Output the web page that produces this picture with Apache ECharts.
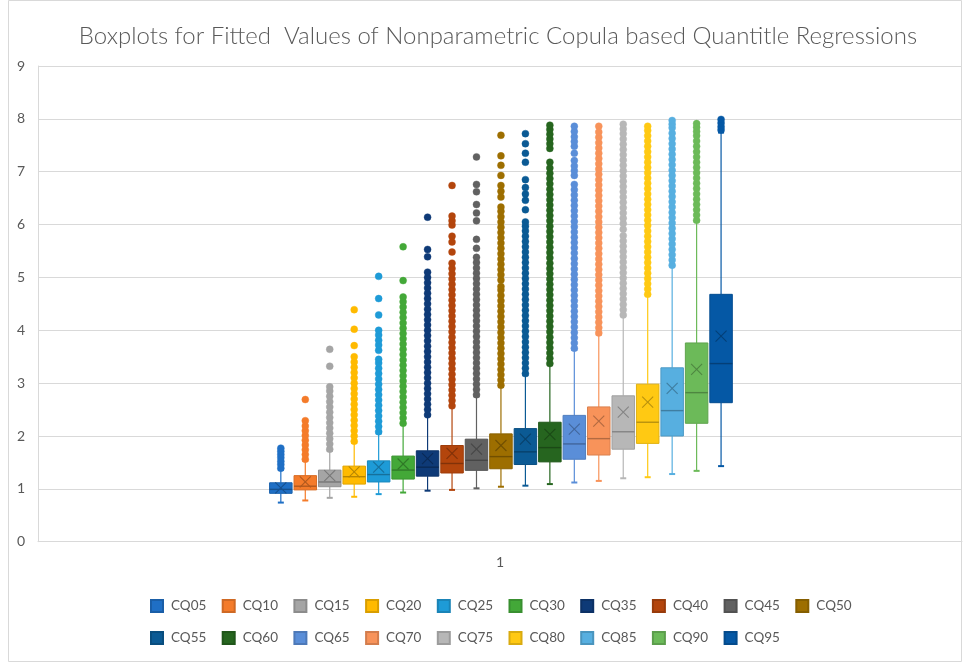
<!DOCTYPE html>
<html><head><meta charset="utf-8">
<script src="https://cdn.jsdelivr.net/npm/echarts@6/dist/echarts.min.js"></script>
<style>html,body{margin:0;padding:0;background:#fff}#c{width:969px;height:668px}</style>
</head><body><div id="c"></div>
<script>
// ---------------- data ----------------
const categories = ['1'];
const names = ['CQ05','CQ10','CQ15','CQ20','CQ25','CQ30','CQ35','CQ40','CQ45','CQ50','CQ55','CQ60','CQ65','CQ70','CQ75','CQ80','CQ85','CQ90','CQ95'];
const yTicks = [0,1,2,3,4,5,6,7,8,9];
const mins    = [0.74,0.78,0.83,0.85,0.90,0.93,0.965,0.98,1.01,1.04,1.06,1.09,1.12,1.15,1.20,1.22,1.28,1.34,1.43];
const q1s     = [0.915,0.98,1.04,1.09,1.13,1.185,1.24,1.30,1.35,1.38,1.46,1.51,1.56,1.64,1.75,1.86,2.00,2.24,2.63];
const medians = [0.99,1.05,1.13,1.23,1.27,1.355,1.41,1.48,1.54,1.61,1.70,1.78,1.85,1.95,2.08,2.26,2.48,2.82,3.37];
const q3s     = [1.115,1.25,1.355,1.43,1.53,1.62,1.72,1.82,1.94,2.04,2.14,2.26,2.39,2.55,2.76,2.98,3.29,3.76,4.68];
const maxs    = [1.36,1.53,1.72,1.87,2.05,2.22,2.38,2.55,2.75,2.93,3.15,3.35,3.63,3.92,4.27,4.66,5.21,6.06,7.74];
const means   = [1.02,1.13,1.25,1.32,1.41,1.47,1.57,1.67,1.75,1.82,1.94,2.03,2.13,2.28,2.45,2.64,2.90,3.26,3.89];

const outCQ05 = [1.39,1.46,1.52,1.59,1.65,1.71,1.77];
const outCQ10 = [1.56,1.65,1.74,1.83,1.92,2.01,2.10,2.19,2.29,2.69];
const outCQ15 = [1.75,1.85,1.95,2.05,2.15,2.25,2.35,2.45,2.55,2.65,2.75,2.85,2.93,3.32,3.64];
const outCQ20 = [1.90,2.00,2.10,2.20,2.30,2.40,2.50,2.60,2.70,2.80,2.90,3.00,3.10,3.20,3.30,3.40,3.50,3.71,4.02,4.39];
const outCQ25 = [2.08,2.18,2.28,2.38,2.48,2.58,2.68,2.78,2.88,2.98,3.08,3.18,3.28,3.38,3.45,3.62,3.72,3.81,3.91,4.00,4.29,4.60,5.02];
const outCQ30 = [2.24,2.34,2.44,2.54,2.64,2.74,2.84,2.94,3.04,3.14,3.24,3.34,3.44,3.54,3.64,3.74,3.84,3.94,4.04,4.14,4.24,4.34,4.44,4.54,4.63,4.94,5.58];
const outCQ35 = [2.40,2.50,2.60,2.70,2.80,2.90,3.00,3.10,3.20,3.30,3.40,3.50,3.60,3.70,3.80,3.90,4.00,4.10,4.20,4.30,4.40,4.50,4.60,4.70,4.80,4.90,5.00,5.10,5.39,5.53,6.14];
const outCQ40 = [2.57,2.67,2.77,2.87,2.97,3.07,3.17,3.27,3.37,3.47,3.57,3.67,3.77,3.87,3.97,4.07,4.17,4.27,4.37,4.47,4.57,4.67,4.77,4.87,4.97,5.07,5.17,5.27,5.48,5.67,5.78,5.99,6.07,6.16,6.74];
const outCQ45 = [2.78,2.88,2.98,3.08,3.18,3.28,3.38,3.48,3.58,3.68,3.78,3.88,3.98,4.08,4.18,4.28,4.38,4.48,4.58,4.68,4.78,4.88,4.98,5.08,5.18,5.28,5.38,5.55,5.72,6.07,6.22,6.38,6.62,6.76,7.28];
const outCQ50 = [2.96,3.06,3.16,3.26,3.36,3.46,3.56,3.66,3.76,3.86,3.96,4.06,4.16,4.26,4.36,4.46,4.56,4.66,4.76,4.83,4.95,5.05,5.15,5.25,5.35,5.45,5.55,5.65,5.75,5.85,5.95,6.05,6.15,6.25,6.33,6.52,6.63,6.74,6.93,7.12,7.30,7.69];
const outCQ55 = [3.18,3.28,3.38,3.48,3.58,3.68,3.78,3.88,3.98,4.08,4.18,4.28,4.38,4.48,4.58,4.68,4.78,4.88,4.98,5.08,5.18,5.28,5.38,5.48,5.58,5.68,5.78,5.88,5.97,6.05,6.28,6.46,6.58,6.70,6.85,7.18,7.35,7.53,7.72];
const outCQ60 = [3.37,3.47,3.57,3.67,3.77,3.87,3.97,4.07,4.17,4.27,4.37,4.47,4.57,4.67,4.77,4.87,4.97,5.07,5.17,5.27,5.37,5.47,5.57,5.67,5.77,5.87,5.97,6.07,6.17,6.27,6.37,6.47,6.57,6.67,6.77,6.87,6.97,7.07,7.18,7.44,7.53,7.62,7.71,7.80,7.88];
const outCQ65 = [3.66,3.76,3.86,3.96,4.06,4.16,4.26,4.36,4.46,4.56,4.66,4.76,4.86,4.96,5.06,5.16,5.26,5.36,5.46,5.56,5.66,5.76,5.86,5.96,6.06,6.16,6.26,6.36,6.46,6.56,6.66,6.76,6.93,7.02,7.11,7.21,7.35,7.48,7.57,7.66,7.76,7.86];
const outCQ70 = [3.95,4.05,4.15,4.25,4.35,4.45,4.55,4.65,4.75,4.85,4.95,5.05,5.15,5.25,5.35,5.45,5.55,5.65,5.75,5.85,5.95,6.05,6.15,6.25,6.35,6.45,6.55,6.65,6.75,6.85,6.95,7.05,7.15,7.25,7.35,7.45,7.55,7.65,7.75,7.86];
const outCQ75 = [4.29,4.39,4.49,4.59,4.69,4.79,4.89,4.99,5.09,5.19,5.29,5.39,5.49,5.59,5.69,5.79,5.91,6.02,6.12,6.22,6.32,6.42,6.52,6.62,6.72,6.82,6.92,7.02,7.12,7.22,7.32,7.42,7.52,7.62,7.72,7.81,7.90];
const outCQ80 = [4.68,4.78,4.88,4.98,5.08,5.18,5.28,5.38,5.48,5.58,5.68,5.78,5.88,5.98,6.08,6.18,6.28,6.38,6.48,6.58,6.68,6.78,6.88,6.98,7.08,7.18,7.28,7.38,7.48,7.58,7.68,7.78,7.86];
const outCQ85 = [5.23,5.33,5.43,5.53,5.63,5.73,5.83,5.93,6.03,6.13,6.23,6.33,6.43,6.53,6.63,6.73,6.83,6.93,7.03,7.13,7.23,7.33,7.43,7.53,7.63,7.73,7.83,7.90,7.97];
const outCQ90 = [6.08,6.18,6.28,6.38,6.48,6.58,6.68,6.78,6.88,6.98,7.08,7.18,7.28,7.38,7.48,7.58,7.68,7.76,7.84,7.91];
const outCQ95 = [7.79,7.85,7.92,7.99];
const outliers = [outCQ05,outCQ10,outCQ15,outCQ20,outCQ25,outCQ30,outCQ35,outCQ40,outCQ45,outCQ50,outCQ55,outCQ60,outCQ65,outCQ70,outCQ75,outCQ80,outCQ85,outCQ90,outCQ95];

// ---------------- styles ----------------
const colors = ['#1F6FC5','#F47B2A','#A5A5A5','#FFBA00','#1E9BD7','#43A838','#0E3A77','#B3450C','#616161','#9D6E00',
                '#0B5A94','#26651F','#5A8ED8','#F8935A','#B7B7B7','#FFC913','#57AFE0','#6CBA59','#0558A5'];
function shade(hex, f) {
  const n = parseInt(hex.slice(1), 16);
  const r = Math.round(((n >> 16) & 255) * f), g = Math.round(((n >> 8) & 255) * f), b = Math.round((n & 255) * f);
  return 'rgb(' + r + ',' + g + ',' + b + ')';
}
const txt = '#595959';
const FONT = 'Lato';
const plotTop = 66, plotBottom = 126.3, plotLeft = 38, plotRight = 7;
const boxLeft = 268.6, boxWidthAll = 464.7;

function makeRender(i) {
  const c = colors[i], dk = shade(colors[i], 0.72);
  return function (params, api) {
    const idx = api.value(0);
    const pMin = api.coord([idx, api.value(1)]);
    const pQ1 = api.coord([idx, api.value(2)]);
    const pMed = api.coord([idx, api.value(3)]);
    const pQ3 = api.coord([idx, api.value(4)]);
    const pMax = api.coord([idx, api.value(5)]);
    const pMean = api.coord([idx, api.value(6)]);
    const x = pMed[0];
    const hw = api.size([1, 0])[0] * 0.46;
    const m = 5.5;
    return {
      type: 'group',
      children: [
        { type: 'line', shape: { x1: x, y1: pMin[1], x2: x, y2: pQ1[1] }, style: { stroke: c, lineWidth: 1.2 } },
        { type: 'line', shape: { x1: x, y1: pQ3[1], x2: x, y2: pMax[1] }, style: { stroke: c, lineWidth: 1.2 } },
        { type: 'line', shape: { x1: x - 3, y1: pMin[1], x2: x + 3, y2: pMin[1] }, style: { stroke: c, lineWidth: 2 } },
        { type: 'line', shape: { x1: x - 3, y1: pMax[1], x2: x + 3, y2: pMax[1] }, style: { stroke: c, lineWidth: 2 } },
        { type: 'rect', shape: { x: x - hw, y: pQ3[1], width: hw * 2, height: pQ1[1] - pQ3[1] },
          style: { fill: c, stroke: shade(colors[i], 0.88), lineWidth: 1 } },
        { type: 'line', shape: { x1: x - hw, y1: pMed[1], x2: x + hw, y2: pMed[1] }, style: { stroke: dk, lineWidth: 1.4 } },
        { type: 'line', shape: { x1: x - m, y1: pMean[1] - m, x2: x + m, y2: pMean[1] + m }, style: { stroke: dk, lineWidth: 1.1 } },
        { type: 'line', shape: { x1: x - m, y1: pMean[1] + m, x2: x + m, y2: pMean[1] - m }, style: { stroke: dk, lineWidth: 1.1 } }
      ]
    };
  };
}

const series = [];
names.forEach(function (n, i) {
  series.push({
    type: 'custom', name: n, xAxisIndex: 1, yAxisIndex: 1, silent: true,
    itemStyle: { color: colors[i], borderColor: shade(colors[i], 0.85), borderWidth: 1 },
    encode: { x: 0, y: [1, 2, 3, 4, 5, 6] },
    renderItem: makeRender(i),
    data: [[i, mins[i], q1s[i], medians[i], q3s[i], maxs[i], means[i]]],
    z: 2
  });
});
names.forEach(function (n, i) {
  series.push({
    type: 'scatter', name: n, xAxisIndex: 1, yAxisIndex: 1, silent: true,
    symbol: 'circle', symbolSize: 7,
    itemStyle: { color: colors[i], borderColor: colors[i], borderWidth: 0.4, opacity: 1 },
    data: outliers[i].map(function (v) { return [i, v]; }),
    z: 3
  });
});

const chart = echarts.init(document.getElementById('c'), null, { renderer: 'canvas' });
chart.setOption({
  animation: false,
  backgroundColor: '#ffffff',
  title: {
    text: 'Boxplots for Fitted  Values of Nonparametric Copula based Quantitle Regressions',
    left: 493, top: 19, textAlign: 'center',
    textStyle: { color: txt, fontSize: 24, fontWeight: 300, fontFamily: FONT }
  },
  legend: {
    data: names, left: 150, top: 596, width: 745, padding: 0,
    icon: 'rect', itemWidth: 12, itemHeight: 12, itemGap: 12,
    textStyle: { color: txt, fontSize: 13.5, fontFamily: FONT, width: 38.7, lineHeight: 20, padding: [0, 0, 0, 3] },
    selectedMode: false
  },
  graphic: [{
    type: 'rect', shape: { x: 8.5, y: 0.5, width: 953, height: 661 },
    style: { fill: 'none', stroke: '#D9D9D9', lineWidth: 1 }, silent: true, z: -1
  }],
  grid: [
    { left: plotLeft, right: plotRight, top: plotTop, bottom: plotBottom, containLabel: false },
    { left: boxLeft, width: boxWidthAll, top: plotTop, bottom: plotBottom, containLabel: false }
  ],
  xAxis: [
    { type: 'category', gridIndex: 0, data: categories,
      axisLine: { show: true, lineStyle: { color: '#D9D9D9' } }, axisTick: { show: false },
      axisLabel: { color: txt, fontSize: 14, fontFamily: FONT, margin: 14 } },
    { type: 'category', gridIndex: 1, data: names, show: false }
  ],
  yAxis: [
    { type: 'value', gridIndex: 0, min: yTicks[0], max: yTicks[yTicks.length - 1], interval: 1,
      axisLine: { show: true, lineStyle: { color: '#D9D9D9' } }, axisTick: { show: false },
      splitLine: { lineStyle: { color: '#D9D9D9', width: 1 } },
      axisLabel: { color: txt, fontSize: 14, fontFamily: FONT, margin: 13 } },
    { type: 'value', gridIndex: 1, min: yTicks[0], max: yTicks[yTicks.length - 1], show: false, splitLine: { show: false } }
  ],
  series: series
});
</script>
</body></html>
